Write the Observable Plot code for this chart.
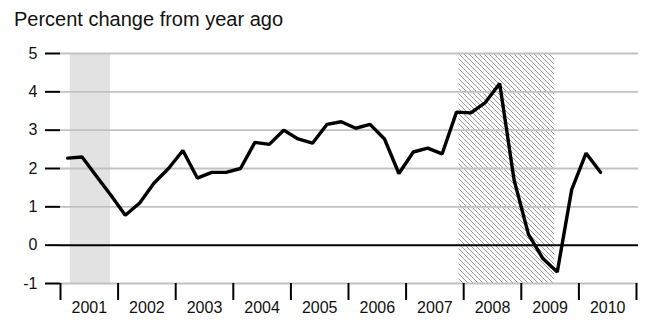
<!DOCTYPE html>
<html><head><meta charset="utf-8">
<script src="https://cdn.jsdelivr.net/npm/d3@7"></script>
<script src="https://cdn.jsdelivr.net/npm/@observablehq/plot@0.6"></script>
<style>
html,body{margin:0;padding:0;background:#fff;}
body{width:645px;height:320px;position:relative;overflow:hidden;font-family:"Liberation Sans",Arial,Helvetica,sans-serif;}
#title{position:absolute;left:14px;top:9px;font-size:20px;line-height:20px;color:#111;white-space:nowrap;}
#chart{position:absolute;left:0;top:35px;}
#chart svg text{font-size:16px !important;font-family:"Liberation Sans",Arial,Helvetica,sans-serif !important;}
</style></head><body>
<div id="title">Percent change from year ago</div>
<div id="chart"></div>
<script>
// Quarterly series, 2001 Q1 .. 2010 Q2
const firstYear = 2001;
const values = [
  2.27, 2.30, 1.80, 1.30,
  0.78, 1.10, 1.62, 2.00,
  2.47, 1.75, 1.90, 1.90,
  2.00, 2.68, 2.63, 3.00,
  2.77, 2.66, 3.15, 3.22,
  3.05, 3.15, 2.77, 1.87,
  2.43, 2.53, 2.38, 3.47,
  3.45, 3.72, 4.22, 1.70,
  0.28, -0.35, -0.70, 1.45,
  2.40, 1.90
];
const yearLabels = [2001, 2002, 2003, 2004, 2005, 2006, 2007, 2008, 2009, 2010];
const yearBoundaries = [2001, 2002, 2003, 2004, 2005, 2006, 2007, 2008, 2009, 2010, 2011];
const yTicks = [-1, 0, 1, 2, 3, 4, 5];
const recessionStart = [2001.17, 2007.92];
const recessionEnd = [2001.87, 2009.58];
const recessionStyle = ["solid", "hatch"];

const series = values.map((v, i) => ({t: firstYear + i / 4 + 0.125, v}));
const recessions = recessionStart.map((s, i) => ({start: s, end: recessionEnd[i], style: recessionStyle[i]}));
const yMin = d3.min(yTicks), yMax = d3.max(yTicks);

const chart = Plot.plot({
  width: 645,
  height: 285,
  marginTop: 18,
  marginBottom: 37,
  marginLeft: 60,
  marginRight: 7,
  x: {domain: [2001, 2011.035]},
  y: {domain: [yMin, yMax]},
  style: {fontFamily: "'Liberation Sans', Arial, Helvetica, sans-serif", fontSize: "16px", color: "#111", background: "#fff"},
  marks: [
    Plot.rect(recessions.filter(d => d.style === "solid"), {x1: "start", x2: "end", y1: () => yMin, y2: () => yMax, fill: "#e2e2e2"}),
    Plot.rect(recessions.filter(d => d.style === "hatch"), {x1: "start", x2: "end", y1: () => yMin, y2: () => yMax, fill: "url(#hatchPattern)"}),
    Plot.ruleY(yTicks.filter(d => d !== 0), {stroke: "#c2c2c2", strokeWidth: 1.8}),
    Plot.ruleY([0], {stroke: "#000", strokeWidth: 2}),
    Plot.axisY(yTicks, {tickSize: 15, tickPadding: 8, stroke: "#000", strokeWidth: 2, fill: "#111", tickFormat: d => String(d), label: null}),
    Plot.axisX(yearBoundaries, {tickSize: 17, stroke: "#000", strokeWidth: 2, tickFormat: () => "", label: null}),
    Plot.axisX(yearLabels.map(y => y + 0.5), {tickSize: 0, tickPadding: 18, fill: "#111", tickFormat: d => String(Math.floor(d)), label: null}),
    Plot.line(series, {x: "t", y: "v", stroke: "#000", strokeWidth: 3.4, strokeLinejoin: "miter"})
  ]
});

const svg = d3.select(chart);
const defs = svg.insert("defs", ":first-child");
const pat = defs.append("pattern")
  .attr("id", "hatchPattern")
  .attr("patternUnits", "userSpaceOnUse")
  .attr("width", 5).attr("height", 5);
pat.append("rect").attr("width", 5).attr("height", 5).attr("fill", "#fff");
pat.append("path")
  .attr("d", "M-1,-1L6,6M-1,4L1,6M4,-1L6,1")
  .attr("stroke", "#9a9a9a").attr("stroke-width", 1);

document.getElementById("chart").appendChild(chart);
</script>
</body></html>
